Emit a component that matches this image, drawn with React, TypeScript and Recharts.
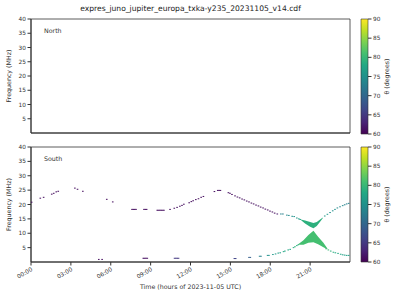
import { ComposedChart, Scatter, Area, XAxis, YAxis, ReferenceArea } from 'recharts'

const FONT = 'DejaVu Sans'
const INK = '#333'

const HOUR_TICKS = [0, 3, 6, 9, 12, 15, 18, 21]
const FREQ_TICKS = [5, 10, 15, 20, 25, 30, 35, 40]
const THETA_TICKS = [60, 65, 70, 75, 80, 85, 90]

// south, upper (high frequency) branch
const upperT = [
  0.05, 0.7, 0.95, 1.56, 1.71, 1.9, 2.05, 3.3, 3.5, 3.9, 5.7, 6.15,
  7.6, 7.7, 7.8, 7.9, 8.5, 8.6, 8.7, 9.5, 9.6, 9.7, 9.8, 9.9, 10.0,
  10.46, 10.78, 10.99, 11.2, 11.36, 11.5, 11.9, 12.06, 12.2, 12.4, 12.6, 12.8, 12.97,
  13.8, 14.05, 14.15, 14.25,
  14.85, 14.97, 15.12, 15.35, 15.53, 15.7, 15.88, 16.05, 16.23, 16.4, 16.58,
  16.75, 16.93, 17.11, 17.28, 17.46, 17.63, 17.81, 17.98, 18.16, 18.33, 18.53,
  18.8, 18.95, 19.25, 19.4, 19.65, 19.8, 20.0, 20.15, 20.25,
  22.1, 22.3, 22.5, 22.7, 22.87, 23.05, 23.25, 23.45, 23.6, 23.75, 23.9,
]
const upperF = [
  20.8, 22.2, 22.5, 23.6, 23.9, 24.4, 24.6, 25.7, 25.3, 24.6, 21.8, 20.9,
  18.3, 18.3, 18.3, 18.3, 18.3, 18.3, 18.3, 18.0, 18.0, 18.0, 18.0, 18.0, 18.0,
  18.3, 18.7, 19.0, 19.4, 19.7, 20.1, 20.6, 21.0, 21.3, 21.7, 22.0, 22.5, 22.8,
  24.5, 24.9, 24.9, 24.9,
  24.1, 23.9, 23.5, 23.0, 22.6, 22.3, 21.9, 21.6, 21.2, 20.9, 20.5,
  20.2, 19.8, 19.5, 19.1, 18.8, 18.4, 18.1, 17.7, 17.4, 17.0, 16.7,
  16.7, 16.7, 16.3, 16.2, 15.9, 15.8, 15.3, 15.0, 14.8,
  16.0, 16.6, 17.2, 17.8, 18.3, 18.8, 19.2, 19.6, 19.9, 20.2, 20.4,
]
const upperTheta = [
  61, 61, 61, 61, 61, 61, 61, 61, 61, 61, 61, 61,
  61, 61, 61, 61, 61, 61, 61, 61, 61, 61, 61, 61, 61,
  61, 61, 61, 61, 61, 61, 61, 61, 61, 61, 61, 61, 61,
  61, 61, 61, 61,
  61, 61, 61, 61, 61, 61, 61, 61, 61, 61, 61,
  61, 61, 61, 61, 61, 61, 61, 61, 61, 61, 62,
  73, 73, 74, 74, 75, 75, 76, 76, 77,
  76, 76, 75, 75, 75, 74, 74, 74, 73, 73, 73,
]

// south, lower (low frequency) branch
const lowerT = [
  5.1, 5.35, 8.45, 8.55, 8.65, 8.75, 10.8, 10.9, 11.0, 11.1,
  15.3, 15.4, 16.4, 16.5, 17.2, 17.3, 17.8, 17.9, 18.2, 18.4, 18.6, 18.75,
  19.0, 19.1, 19.35, 19.5, 19.75, 19.86, 20.0, 20.11,
  22.2, 22.37, 22.55, 22.75, 22.9, 23.1, 23.3, 23.45, 23.6, 23.75, 23.9,
]
const lowerF = [
  0.9, 0.9, 1.3, 1.3, 1.3, 1.3, 1.3, 1.3, 1.3, 1.3,
  1.2, 1.2, 1.6, 1.6, 2.0, 2.0, 2.3, 2.3, 2.6, 2.8, 3.1, 3.2,
  3.6, 3.8, 4.2, 4.4, 5.0, 5.3, 5.7, 6.0,
  4.6, 4.2, 3.8, 3.4, 3.2, 3.0, 2.7, 2.5, 2.4, 2.3, 2.3,
]
const lowerTheta = [
  61, 61, 61, 61, 61, 61, 65, 65, 65, 65,
  66, 66, 69, 69, 73, 73, 75, 75, 76, 76, 77, 77,
  78, 78, 78, 78, 79, 79, 79, 79,
  80, 80, 79, 79, 78, 78, 78, 77, 77, 77, 77,
]

// dense fans near the crossing (~21:15)
const upperFanT = [20.3, 20.62, 21.0, 21.25, 21.5, 21.75, 21.95]
const upperFanLo = [14.6, 13.4, 12.3, 11.7, 12.5, 14.0, 15.2]
const upperFanHi = [14.8, 14.4, 13.9, 13.6, 13.9, 14.8, 15.5]
const upperFanTheta = 79

const lowerFanT = [20.1, 20.5, 20.87, 21.25, 21.6, 22.0, 22.3]
const lowerFanLo = [6.0, 6.0, 6.7, 6.9, 6.2, 5.1, 4.4]
const lowerFanHi = [6.2, 7.6, 9.4, 10.9, 8.8, 6.7, 4.7]
const lowerFanTheta = 81

const CB_X = [0, 1]

const VIRIDIS = ['#440154', '#482475', '#414487', '#355f8d', '#2a788e', '#21918c',
  '#22a884', '#44bf70', '#7ad151', '#bddf26', '#fde725']

function viridis(theta: number) {
  const u = Math.max(0, Math.min(1, (theta - 60) / 30)) * 10
  const i = Math.min(9, Math.floor(u))
  const k = u - i
  const a = VIRIDIS[i], b = VIRIDIS[i + 1]
  const ch = (s: string, o: number) => parseInt(s.slice(o, o + 2), 16)
  const mix = (o: number) => Math.round(ch(a, o) * (1 - k) + ch(b, o) * k)
  return `rgb(${mix(1)},${mix(3)},${mix(5)})`
}

const upperPts = upperT.map((t, i) => ({ t, f: upperF[i], theta: upperTheta[i] }))
const lowerPts = lowerT.map((t, i) => ({ t, f: lowerF[i], theta: lowerTheta[i] }))
const upperFan = upperFanT.map((t, i) => ({ t, range: [upperFanLo[i], upperFanHi[i]] }))
const lowerFan = lowerFanT.map((t, i) => ({ t, range: [lowerFanLo[i], lowerFanHi[i]] }))
const cbData = CB_X.map(x => ({ x }))

const Dot = (p: any) => (
  <rect x={p.cx - 0.8} y={p.cy - 0.5} width={1.6} height={1} fill={viridis(p.payload.theta)} />
)

const pad = (h: number) => `${String(h).padStart(2, '0')}:00`

const txt = { fontFamily: FONT, fill: INK }

const HourTick = ({ x, y, payload }: any) => (
  <text x={x} y={y} dy={4} textAnchor="end" fontSize={5.8} style={txt}
    transform={`rotate(-30, ${x}, ${y})`}>
    {pad(payload.value)}
  </text>
)

const vLabel = (value: string, dx: number) => ({
  content: ({ viewBox }: any) => {
    const x = viewBox.x + dx
    const y = viewBox.y + viewBox.height / 2
    return (
      <text x={x} y={y} textAnchor="middle" fontSize={6.3} style={txt}
        transform={`rotate(-90, ${x}, ${y})`}>{value}</text>
    )
  },
})

const timeLabel = {
  content: ({ viewBox }: any) => (
    <text x={viewBox.x + viewBox.width / 2} y={viewBox.y + 27} textAnchor="middle"
      fontSize={6.3} style={txt}>Time (hours of 2023-11-05 UTC)</text>
  ),
}

const nameLabel = (name: string) => ({
  content: ({ viewBox }: any) => (
    <text x={viewBox.x + 13} y={viewBox.y + 14} fontSize={6.3} style={txt}>{name}</text>
  ),
})

function Panel({ name, top, height, bottomAxis, south }: any) {
  return (
    <div style={{ position: 'absolute', left: 0, top }}>
      <ComposedChart width={400} height={height}
        margin={{ top: bottomAxis ? 7 : 19, right: 50, left: 0, bottom: 0 }}>
        <XAxis type="number" dataKey="t" domain={[0, 24]} ticks={HOUR_TICKS} allowDataOverflow
          interval={0} height={bottomAxis ? 38 : 7} tickSize={3.5} tickMargin={1.5} stroke={INK}
          tick={bottomAxis ? <HourTick /> : false}
          label={bottomAxis ? timeLabel : undefined} />
        <YAxis type="number" dataKey="f" domain={[0, 40]} ticks={FREQ_TICKS} allowDataOverflow
          interval={0} width={31} tickSize={3.5} tickMargin={1.5} stroke={INK}
          tick={{ fontSize: 5.8, fontFamily: FONT, fill: INK }} label={vLabel('Frequency (MHz)', 11)} />
        <ReferenceArea x1={0} x2={24} y1={0} y2={40} fill="none" stroke={INK} strokeWidth={0.8}
          label={nameLabel(name)} />
        {south && (
          <Area data={upperFan} dataKey="range" type="linear" fill={viridis(upperFanTheta)}
            fillOpacity={1} stroke="none" isAnimationActive={false} />
        )}
        {south && (
          <Area data={lowerFan} dataKey="range" type="linear" fill={viridis(lowerFanTheta)}
            fillOpacity={1} stroke="none" isAnimationActive={false} />
        )}
        {south && <Scatter data={upperPts} shape={Dot} isAnimationActive={false} />}
        {south && <Scatter data={lowerPts} shape={Dot} isAnimationActive={false} />}
      </ComposedChart>
    </div>
  )
}

function ColorBar({ top, id }: any) {
  return (
    <div style={{ position: 'absolute', left: 355, top: top - 6 }}>
      <ComposedChart width={52} height={127} data={cbData}
        margin={{ top: 6, right: 0, left: 6, bottom: 6 }}>
        <defs>
          <linearGradient id={id} x1="0" y1="1" x2="0" y2="0">
            {VIRIDIS.map((c, i) => <stop key={i} offset={i / 10} stopColor={c} />)}
          </linearGradient>
        </defs>
        <XAxis type="number" dataKey="x" domain={[0, 1]} allowDataOverflow hide />
        <YAxis type="number" orientation="right" domain={[60, 90]} ticks={THETA_TICKS} width={39}
          interval={0} allowDataOverflow tickSize={3.5} tickMargin={1.5} stroke={INK} axisLine={false}
          tick={{ fontSize: 5.8, fontFamily: FONT, fill: INK }} label={vLabel('θ (degrees)', 21)} />
        <ReferenceArea x1={0} x2={1} y1={60} y2={90} fill={`url(#${id})`} fillOpacity={1}
          stroke={INK} strokeWidth={0.6} />
      </ComposedChart>
    </div>
  )
}

export default function App() {
  return (
    <div style={{ position: 'absolute', left: 0, top: 0, width: 400, height: 300, background: '#fff' }}>
      <div style={{ position: 'absolute', left: 0, width: 381, top: 4, textAlign: 'center',
        fontFamily: FONT, fontSize: 7.6, color: '#222' }}>
        expres_juno_jupiter_europa_txka-y235_20231105_v14.cdf
      </div>
      <Panel name="North" top={0} height={140} bottomAxis={false} south={false} />
      <Panel name="South" top={140} height={300 - 140} bottomAxis south />
      <ColorBar top={19} id="cbN" />
      <ColorBar top={147} id="cbS" />
    </div>
  )
}
